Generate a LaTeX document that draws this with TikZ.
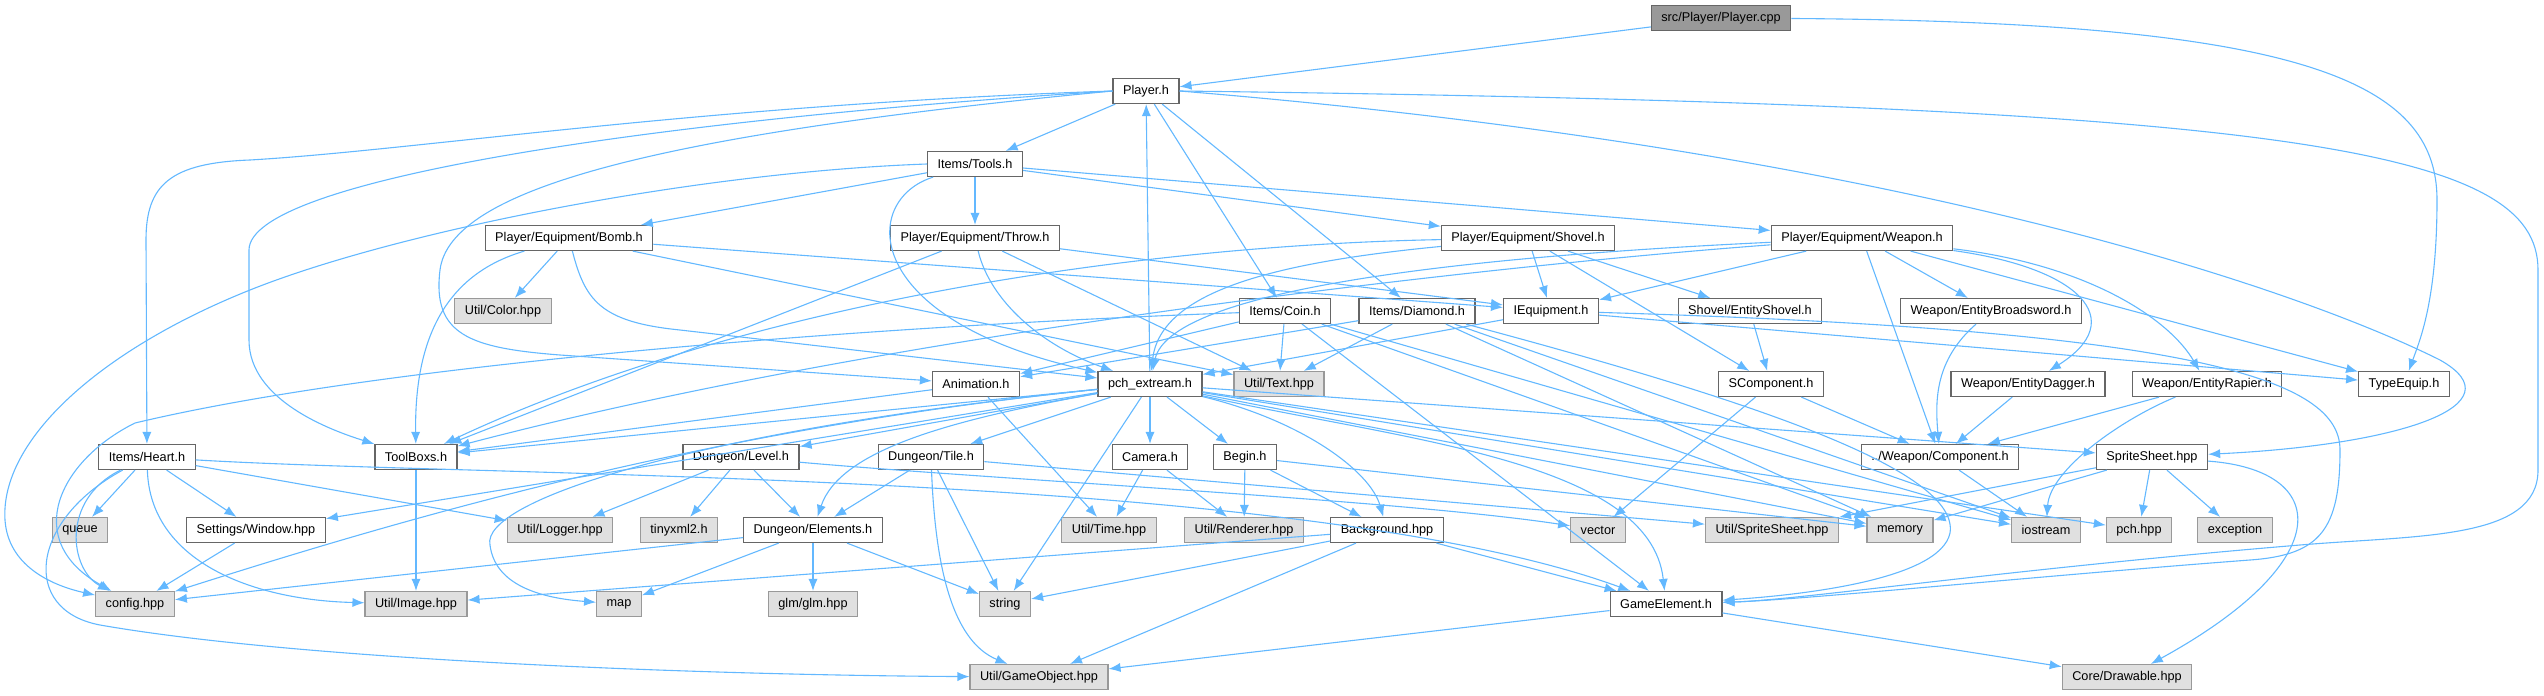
\documentclass[tikz,border=0pt]{standalone}
\usepackage{fontspec}
\setmainfont{Liberation Sans}
\usetikzlibrary{arrows.meta}
\definecolor{edgeblue}{RGB}{99,184,255}
\definecolor{nodeborder}{RGB}{102,102,102}
\definecolor{sysfill}{RGB}{224,224,224}
\definecolor{sysborder}{RGB}{153,153,153}
\definecolor{rootfill}{RGB}{153,153,153}
\tikzset{
  file/.style={draw=nodeborder, fill=white, line width=0.6pt, minimum height=12.5pt,
    inner xsep=5pt, inner ysep=0pt, font=\fontsize{6.35}{7}\selectfont},
  sys/.style={file, fill=sysfill, draw=sysborder},
  root/.style={file, fill=rootfill},
  inc/.style={draw=edgeblue, line width=0.55pt, -{Latex[length=6pt,width=4.6pt]}}
}
\begin{document}
\begin{tikzpicture}[x=0.5pt,y=-0.5pt]
  \useasboundingbox (0,0) rectangle (2544,696);
  % rows of the include graph
  \node[root] (cpp) at (1721,18) {src/Player/Player.cpp};
  \node[file] (player) at (1146,91) {Player.h};
  \node[file] (tools) at (975,164) {Items/Tools.h};
  \node[file] (bomb) at (569,238) {Player/Equipment/Bomb.h};
  \node[file] (throw) at (975,238) {Player/Equipment/Throw.h};
  \node[file] (shovel) at (1528,238) {Player/Equipment/Shovel.h};
  \node[file] (weapon) at (1862,238) {Player/Equipment/Weapon.h};
  \node[sys] (color) at (503,311) {Util/Color.hpp};
  \node[file] (coin) at (1285,311) {Items/Coin.h};
  \node[file] (diamond) at (1417,311) {Items/Diamond.h};
  \node[file] (iequip) at (1551,311) {IEquipment.h};
  \node[file] (eshovel) at (1750,311) {Shovel/EntityShovel.h};
  \node[file] (ebroad) at (1991,311) {Weapon/EntityBroadsword.h};
  \node[file] (anim) at (976,384) {Animation.h};
  \node[file] (pch) at (1150,384) {pch\_extream.h};
  \node[sys] (text) at (1279,384) {Util/Text.hpp};
  \node[file] (scomp) at (1771,384) {SComponent.h};
  \node[file] (edagger) at (2028,384) {Weapon/EntityDagger.h};
  \node[file] (erapier) at (2207,384) {Weapon/EntityRapier.h};
  \node[file] (typeequip) at (2404,384) {TypeEquip.h};
  \node[file] (heart) at (147,457) {Items/Heart.h};
  \node[file] (toolbox) at (416,457) {ToolBoxs.h};
  \node[file] (level) at (741,457) {Dungeon/Level.h};
  \node[file] (tile) at (931,457) {Dungeon/Tile.h};
  \node[file] (camera) at (1150,457) {Camera.h};
  \node[file] (begin) at (1245,457) {Begin.h};
  \node[file] (component) at (1940,457) {../Weapon/Component.h};
  \node[file] (sprite) at (2152,457) {SpriteSheet.hpp};
  \node[sys] (queue) at (80,530) {queue};
  \node[file] (window) at (256,530) {Settings/Window.hpp};
  \node[sys] (logger) at (560,530) {Util/Logger.hpp};
  \node[sys] (tinyxml) at (679,530) {tinyxml2.h};
  \node[file] (elements) at (813,530) {Dungeon/Elements.h};
  \node[sys] (time) at (1109,530) {Util/Time.hpp};
  \node[sys] (renderer) at (1244,530) {Util/Renderer.hpp};
  \node[file] (background) at (1387,530) {Background.hpp};
  \node[sys] (vector) at (1598,530) {vector};
  \node[sys] (usprite) at (1772,530) {Util/SpriteSheet.hpp};
  \node[sys] (memory) at (1900,530) {memory};
  \node[sys] (iostream) at (2046,530) {iostream};
  \node[sys] (pchhpp) at (2139,530) {pch.hpp};
  \node[sys] (exception) at (2235,530) {exception};
  \node[sys] (config) at (135,604) {config.hpp};
  \node[sys] (image) at (416,604) {Util/Image.hpp};
  \node[sys] (map) at (619,604) {map};
  \node[sys] (glm) at (813,604) {glm/glm.hpp};
  \node[sys] (string) at (1005,604) {string};
  \node[file] (gameelement) at (1666,604) {GameElement.h};
  \node[sys] (gameobject) at (1039,677) {Util/GameObject.hpp};
  \node[sys] (drawable) at (2127,677) {Core/Drawable.hpp};

  % Player.cpp and Player.h
  \draw[inc] (cpp) -- (player);
  \draw[inc] (cpp) .. controls (2300,22) and (2437,80) .. (2437,200) .. controls (2437,300) and (2420,340) .. (typeequip);
  \draw[inc] (player) -- (tools);
  \draw[inc] (player) -- (coin);
  \draw[inc] (player) -- (diamond);
  \draw[inc] (pch) -- (player);
  \draw[inc] (player.west) .. controls (700,105) and (420,150) .. (250,160) .. controls (170,163) and (146,185) .. (146,240) -- (heart);
  \draw[inc] (player.west) .. controls (650,120) and (249,180) .. (249,250) -- (249,340) .. controls (249,400) and (330,430) .. (toolbox);
  \draw[inc] (player.west) .. controls (650,135) and (450,190) .. (440,270) .. controls (432,335) and (470,348) .. (560,355) -- (anim);
  \draw[inc] (player.east) .. controls (2300,105) and (2538,150) .. (2538,270) -- (2538,470) .. controls (2538,540) and (2420,535) .. (2300,545) .. controls (2000,570) and (1800,600) .. (gameelement);
  \draw[inc] (player.east) .. controls (1900,150) and (2300,290) .. (2440,360) .. controls (2520,405) and (2400,445) .. (sprite);

  % Items/Tools.h
  \draw[inc] (tools) -- (bomb);
  \draw[inc] (tools) -- (throw);
  \draw[inc] (tools) -- (shovel);
  \draw[inc] (tools) -- (weapon);
  \draw[inc] (tools) .. controls (860,200) and (860,320) .. (pch);
  \draw[inc] (tools.west) .. controls (700,172) and (400,230) .. (250,290) .. controls (100,350) and (0,440) .. (5,520) .. controls (8,565) and (50,585) .. (config);

  % equipment headers
  \draw[inc] (bomb) -- (color);
  \draw[inc] (bomb) .. controls (460,270) and (414,320) .. (toolbox);
  \draw[inc] (bomb) -- (iequip);
  \draw[inc] (bomb) .. controls (585,300) and (600,322) .. (680,330) -- (pch);
  \draw[inc] (bomb) -- (text);
  \draw[inc] (throw) -- (toolbox);
  \draw[inc] (throw) -- (iequip);
  \draw[inc] (throw) .. controls (990,300) and (1040,345) .. (pch);
  \draw[inc] (throw) -- (text);
  \draw[inc] (shovel) .. controls (1150,245) and (750,300) .. (toolbox);
  \draw[inc] (shovel) .. controls (1280,262) and (1160,290) .. (pch);
  \draw[inc] (shovel) -- (iequip);
  \draw[inc] (shovel) -- (scomp);
  \draw[inc] (shovel) -- (eshovel);
  \draw[inc] (weapon) .. controls (1500,265) and (900,330) .. (toolbox);
  \draw[inc] (weapon) .. controls (1500,255) and (1170,285) .. (pch);
  \draw[inc] (weapon) -- (iequip);
  \draw[inc] (weapon) -- (component);
  \draw[inc] (weapon) -- (ebroad);
  \draw[inc] (weapon) .. controls (2080,268) and (2130,320) .. (edagger);
  \draw[inc] (weapon) .. controls (2090,265) and (2170,320) .. (erapier);
  \draw[inc] (weapon) -- (typeequip);

  % items
  \draw[inc] (coin) .. controls (900,325) and (400,360) .. (135,423) .. controls (60,460) and (20,540) .. (config);
  \draw[inc] (coin) -- (anim);
  \draw[inc] (coin) -- (text);
  \draw[inc] (coin) -- (gameelement);
  \draw[inc] (coin) -- (memory);
  \draw[inc] (coin) -- (iostream);
  \draw[inc] (diamond) -- (anim);
  \draw[inc] (diamond) -- (text);
  \draw[inc] (diamond) .. controls (1750,400) and (1960,470) .. (1950,533) .. controls (1940,580) and (1800,595) .. (gameelement);
  \draw[inc] (diamond) -- (memory);
  \draw[inc] (diamond) -- (iostream);
  \draw[inc] (iequip) -- (pch);
  \draw[inc] (iequip) -- (typeequip);
  \draw[inc] (iequip) .. controls (2200,330) and (2340,380) .. (2340,450) .. controls (2340,530) and (2320,555) .. (2250,560) .. controls (2050,575) and (1800,600) .. (gameelement);

  % weapon entities
  \draw[inc] (eshovel) -- (scomp);
  \draw[inc] (ebroad) .. controls (1935,360) and (1935,400) .. (component);
  \draw[inc] (edagger) -- (component);
  \draw[inc] (erapier) -- (component);
  \draw[inc] (erapier) .. controls (2120,420) and (2050,470) .. (iostream);
  \draw[inc] (scomp) -- (component);
  \draw[inc] (scomp) -- (vector);
  \draw[inc] (component) -- (iostream);

  % Animation.h and pch_extream.h
  \draw[inc] (anim) -- (toolbox);
  \draw[inc] (anim) -- (time);
  \draw[inc] (pch) -- (toolbox);
  \draw[inc] (pch) -- (window);
  \draw[inc] (pch) .. controls (700,430) and (400,520) .. (config);
  \draw[inc] (pch) .. controls (700,430) and (480,500) .. (490,545) .. controls (495,585) and (540,598) .. (map);
  \draw[inc] (pch) -- (level);
  \draw[inc] (pch) -- (tile);
  \draw[inc] (pch) .. controls (950,420) and (840,450) .. (elements);
  \draw[inc] (pch) -- (camera);
  \draw[inc] (pch) -- (begin);
  \draw[inc] (pch) .. controls (1300,420) and (1370,470) .. (background);
  \draw[inc] (pch) -- (string);
  \draw[inc] (pch) .. controls (1400,440) and (1650,460) .. (gameelement);
  \draw[inc] (pch) -- (sprite);
  \draw[inc] (pch) -- (memory);
  \draw[inc] (pch) -- (iostream);
  \draw[inc] (pch) -- (pchhpp);

  % Items/Heart.h
  \draw[inc] (heart) -- (queue);
  \draw[inc] (heart) -- (window);
  \draw[inc] (heart) .. controls (60,500) and (70,570) .. (config);
  \draw[inc] (heart) .. controls (150,560) and (250,600) .. (image);
  \draw[inc] (heart) -- (logger);
  \draw[inc] (heart) .. controls (500,478) and (1300,470) .. (gameelement);
  \draw[inc] (heart) .. controls (30,520) and (20,610) .. (100,625) .. controls (300,660) and (700,675) .. (gameobject);

  % lower rows
  \draw[inc] (toolbox) -- (image);
  \draw[inc] (window) -- (config);
  \draw[inc] (level) -- (logger);
  \draw[inc] (level) -- (tinyxml);
  \draw[inc] (level) -- (elements);
  \draw[inc] (level) .. controls (1000,480) and (1400,500) .. (vector);
  \draw[inc] (tile) -- (elements);
  \draw[inc] (tile) -- (string);
  \draw[inc] (tile) .. controls (935,560) and (950,640) .. (gameobject);
  \draw[inc] (tile) -- (usprite);
  \draw[inc] (camera) -- (time);
  \draw[inc] (camera) -- (renderer);
  \draw[inc] (begin) -- (renderer);
  \draw[inc] (begin) -- (background);
  \draw[inc] (begin) -- (memory);
  \draw[inc] (elements) -- (config);
  \draw[inc] (elements) -- (map);
  \draw[inc] (elements) -- (glm);
  \draw[inc] (elements) -- (string);
  \draw[inc] (background) -- (image);
  \draw[inc] (background) -- (string);
  \draw[inc] (background) -- (gameobject);
  \draw[inc] (background) -- (gameelement);
  \draw[inc] (sprite) -- (usprite);
  \draw[inc] (sprite) -- (memory);
  \draw[inc] (sprite) -- (pchhpp);
  \draw[inc] (sprite) -- (exception);
  \draw[inc] (sprite) .. controls (2330,470) and (2340,560) .. (drawable);
  \draw[inc] (gameelement) -- (gameobject);
  \draw[inc] (gameelement) -- (drawable);
\end{tikzpicture}
\end{document}
